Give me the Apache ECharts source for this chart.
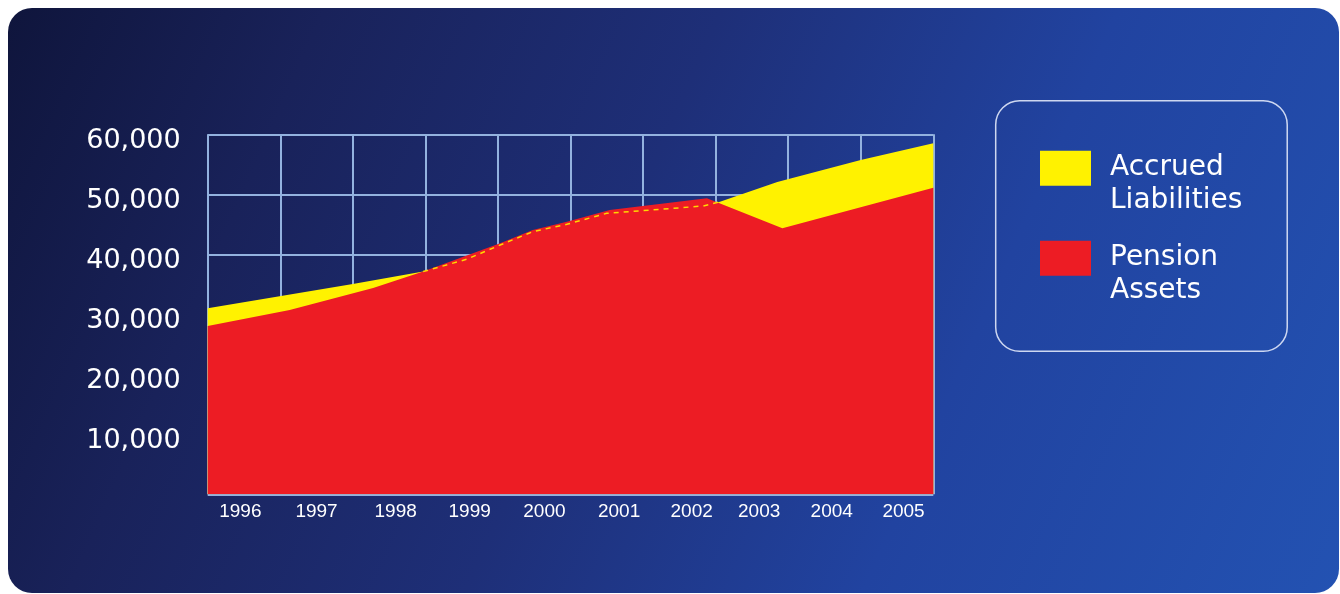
<!DOCTYPE html>
<html>
<head>
<meta charset="utf-8">
<script src="https://cdn.jsdelivr.net/npm/echarts@6/dist/echarts.min.js"></script>
<style>
  html, body { margin: 0; padding: 0; background: #ffffff; }
  #chart { width: 1340px; height: 594px; }
</style>
</head>
<body>
<div id="chart"></div>
<script>
// ---- data ----
const years = [1996, 1997, 1998, 1999, 2000, 2001, 2002, 2003, 2004, 2005];
const yTicks = [10000, 20000, 30000, 40000, 50000, 60000];

// Accrued Liabilities: [time (years), value]
const liabTime  = [1996.0, 1998.0, 1998.97, 1999.57, 2000.03, 2000.48, 2000.95, 2001.5, 2002.83, 2003.06, 2003.85, 2005.0, 2006.0];
const liabValue = [31000, 35050, 37130, 39170, 41550, 43770, 45000, 46830, 48050, 48770, 52050, 55720, 58500];

// Pension Assets: [time (years), value]
const assetTime  = [1996.0, 1997.13, 1998.28, 1998.97, 2000.03, 2000.48, 2000.95, 2001.54, 2002.88, 2003.92, 2006.0];
const assetValue = [28050, 30720, 34380, 37130, 41830, 44050, 45430, 47380, 49330, 44330, 51100];

const seriesNames = ['Accrued Liabilities', 'Pension Assets'];

// ---- build options ----
const liabData  = liabTime.map((t, i) => [t, liabValue[i]]);
const assetData = assetTime.map((t, i) => [t, assetValue[i]]);
// dashed liabilities line where it runs beneath the assets area
const liabBelow = liabData.filter(d => d[0] >= 1998.9 && d[0] <= 2003.1);

const labelShift = [0.45, 0.50, 0.59, 0.61, 0.64, 0.67, 0.67, 0.60, 0.60, 0.59];
const labelAt = years.map((y, i) => y + labelShift[i]);

const gridColor = '#93b2df';
const yellow = '#fff200';
const red = '#ed1c24';

const chart = echarts.init(document.getElementById('chart'), null, { renderer: 'canvas' });
chart.setOption({
  backgroundColor: '#ffffff',
  animation: false,
  graphic: [{
    type: 'rect',
    z: -100,
    silent: true,
    shape: { x: 8, y: 8, width: 1331, height: 585, r: 24 },
    style: {
      fill: new echarts.graphic.LinearGradient(0, 0, 1, 1, [
        { offset: 0, color: '#0f153c' },
        { offset: 0.2, color: '#19225a' },
        { offset: 0.45, color: '#1e2f78' },
        { offset: 0.7, color: '#2143a0' },
        { offset: 1, color: '#2352b2' }
      ])
    }
  }],
  grid: { left: 207.7, right: 406.7, top: 134.3, bottom: 99.7 },
  legend: {
    data: seriesNames,
    orient: 'vertical',
    left: 995.7,
    top: 100.7,
    padding: [18, 45, 43.5, 44.3],
    itemGap: -9,
    icon: 'rect',
    itemWidth: 51,
    itemHeight: 35,
    selectedMode: false,
    borderColor: 'rgba(225,232,250,0.9)',
    borderWidth: 1.5,
    borderRadius: 24,
    formatter: name => '\n' + name.replace(' ', '\n'),
    textStyle: {
      color: '#ffffff',
      fontFamily: 'DejaVu Sans',
      fontSize: 28,
      lineHeight: 33,
      padding: [0, 0, 0, 14]
    }
  },
  xAxis: {
    type: 'value',
    min: 1996,
    max: 2006,
    interval: 1,
    axisLine: { show: false },
    axisTick: { show: false },
    splitLine: { show: true, lineStyle: { color: gridColor, width: 2 } },
    axisLabel: {
      customValues: labelAt,
      formatter: v => String(years[labelAt.indexOf(v)] ?? Math.floor(v)),
      color: '#ffffff',
      fontFamily: 'Liberation Sans',
      fontSize: 19,
      margin: 8
    }
  },
  yAxis: {
    type: 'value',
    min: 0,
    max: 60000,
    interval: 10000,
    axisLine: { show: false },
    axisTick: { show: false },
    splitLine: { show: true, lineStyle: { color: gridColor, width: 2 } },
    axisLabel: {
      customValues: yTicks,
      formatter: v => v.toLocaleString('en-US'),
      color: '#ffffff',
      fontFamily: 'DejaVu Sans',
      fontSize: 27,
      margin: 27,
      verticalAlign: 'top',
      lineHeight: 13
    }
  },
  series: [
    {
      name: seriesNames[0],
      type: 'line',
      data: liabData,
      symbol: 'none',
      color: yellow,
      lineStyle: { width: 0 },
      areaStyle: { color: yellow, opacity: 1 },
      z: 2
    },
    {
      name: seriesNames[1],
      type: 'line',
      data: assetData,
      symbol: 'none',
      color: red,
      lineStyle: { width: 0 },
      areaStyle: { color: red, opacity: 1 },
      z: 3
    },
    {
      name: 'liab-dashed',
      type: 'line',
      data: liabBelow,
      symbol: 'none',
      color: '#ffd500',
      lineStyle: { width: 1.5, type: [5, 5], color: '#ffd800' },
      z: 4
    }
  ]
});
</script>
</body>
</html>
